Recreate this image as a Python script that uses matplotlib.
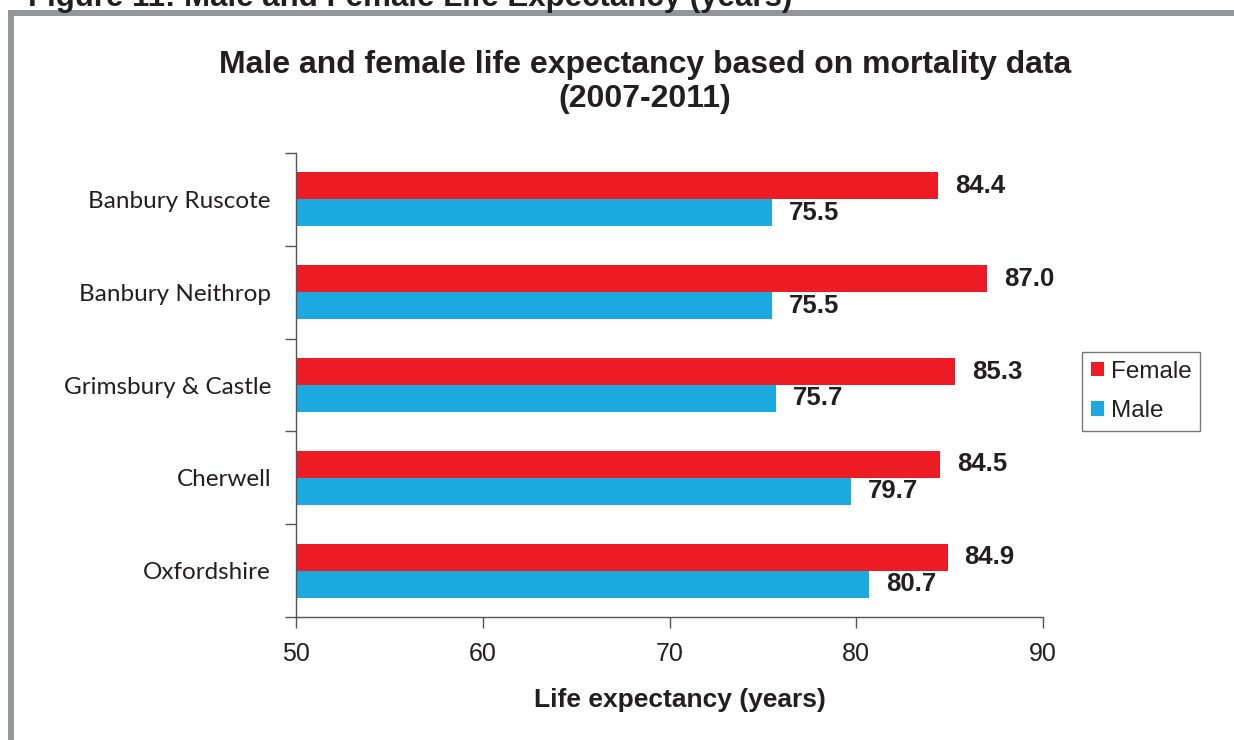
"""Male and female life expectancy bar chart."""

import matplotlib

matplotlib.use("Agg")
import matplotlib.pyplot as plt
import numpy as np
from matplotlib.patches import Patch

areas = ["Banbury Ruscote", "Banbury Neithrop", "Grimsbury & Castle", "Cherwell", "Oxfordshire"]
female = [84.4, 87.0, 85.3, 84.5, 84.9]
male = [75.5, 75.5, 75.7, 79.7, 80.7]
x_ticks = [50, 60, 70, 80, 90]

RED = "#ED1C24"
BLUE = "#1CA9E0"
TEXT = "#231F20"

W, H = 1234, 740
fig = plt.figure(figsize=(W / 100, H / 100), dpi=100)

# gray frame (top and left edges) and the cut-off figure caption
fig.add_artist(plt.Line2D([11 / W, 11 / W], [0, 1 - 13 / H], color="#939598", lw=4.3,
                          solid_capstyle="projecting"))
fig.add_artist(plt.Line2D([11 / W, 1], [1 - 13 / H, 1 - 13 / H], color="#939598", lw=4.3,
                          solid_capstyle="projecting"))
fig.text(28 / W, 1 - 6 / H, "Figure 11: Male and Female Life Expectancy (years)",
         fontsize=22.5, fontweight="bold", family="Liberation Sans", color=TEXT, va="baseline")

ax = fig.add_axes([296 / W, (H - 617) / H, (1043 - 296) / W, (617 - 153) / H])
y = np.arange(len(areas))
h = 0.29
ax.barh(y - h / 2, [f - 50 for f in female], left=50, height=h, color=RED)
ax.barh(y + h / 2, [m - 50 for m in male], left=50, height=h, color=BLUE)

for yi, f, m in zip(y, female, male):
    ax.text(f + 0.9, yi - h / 2, f"{f:.1f}", va="center", ha="left", fontsize=18.5,
            fontweight="bold", family="Liberation Sans", color=TEXT)
    ax.text(m + 0.9, yi + h / 2, f"{m:.1f}", va="center", ha="left", fontsize=18.5,
            fontweight="bold", family="Liberation Sans", color=TEXT)

ax.set_xlim(50, 90)
ax.set_ylim(len(areas) - 0.5, -0.5)
ax.set_xticks(x_ticks)
ax.set_xticklabels([str(t) for t in x_ticks], fontsize=18, family="Liberation Sans", color=TEXT)
ax.set_yticks(y)
ax.set_yticklabels(areas, fontsize=17.5, family="Lato", color=TEXT)
ax.set_yticks(np.arange(len(areas) + 1) - 0.5, minor=True)
ax.tick_params(axis="y", which="major", length=0, pad=18)
ax.tick_params(axis="y", which="minor", length=8, width=1, color="#555555")
ax.tick_params(axis="x", length=8, width=1, color="#555555", pad=10)
for side in ("top", "right"):
    ax.spines[side].set_visible(False)
for side in ("left", "bottom"):
    ax.spines[side].set_color("#555555")
    ax.spines[side].set_linewidth(1)

ax.set_xlabel("Life expectancy (years)", fontsize=19, fontweight="bold",
              family="Liberation Sans", color=TEXT, labelpad=16)
ax.xaxis.label.set_x((680 - 296) / (1043 - 296))
fig.text(645 / W, 1 - 82 / H, "Male and female life expectancy based on mortality data\n(2007-2011)",
         ha="center", va="center", fontsize=23, fontweight="bold", family="Liberation Sans",
         color=TEXT, linespacing=1.15)

handles = [Patch(facecolor=RED, label="Female"), Patch(facecolor=BLUE, label="Male")]
leg = fig.legend(handles=handles, loc="upper left", bbox_to_anchor=(1082 / W, 1 - 352 / H),
                 borderaxespad=0, frameon=True, fancybox=False, handlelength=0.55, handleheight=0.55,
                 handletextpad=0.3, borderpad=0.35, labelspacing=0.72,
                 prop={"family": "Liberation Sans", "size": 17.5})
leg.get_frame().set_edgecolor("#555555")
leg.get_frame().set_linewidth(1)
for t in leg.get_texts():
    t.set_color(TEXT)

fig.savefig("out.png", dpi=100)
